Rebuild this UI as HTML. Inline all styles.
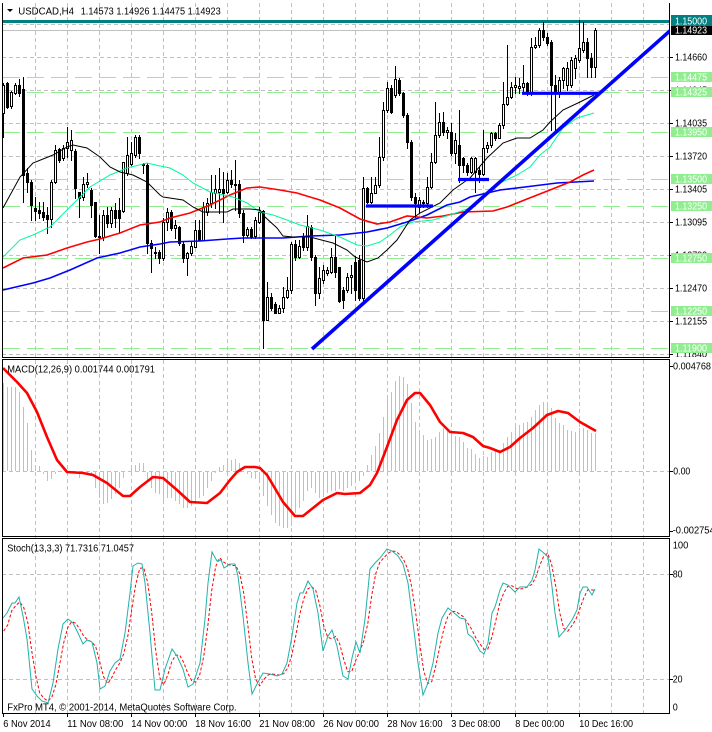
<!DOCTYPE html>
<html><head><meta charset="utf-8">
<style>
html,body{margin:0;padding:0;background:#fff;overflow:hidden;}
svg{display:block;font-family:"Liberation Sans",sans-serif;}
text{font-size:10px;}
</style></head>
<body>
<svg id="s" xmlns="http://www.w3.org/2000/svg" width="712" height="732" viewBox="0 0 712 732">
<defs>
<clipPath id="cm"><rect x="2" y="0" width="667.5" height="357"/></clipPath>
<clipPath id="cml"><rect x="669" y="0" width="43" height="357"/></clipPath>
<clipPath id="cmacd"><rect x="2" y="359" width="667" height="177"/></clipPath>
<clipPath id="cst"><rect x="2" y="538" width="667" height="175"/></clipPath>
</defs>
<rect x="0" y="0" width="712" height="732" fill="#fff"/>
<g id="grid" shape-rendering="crispEdges"></g>
<g id="levels" shape-rendering="crispEdges" clip-path="url(#cm)"></g>
<g id="candles" shape-rendering="crispEdges" clip-path="url(#cm)"></g>
<g id="mas" clip-path="url(#cm)" fill="none"></g>
<g id="objs" clip-path="url(#cm)" fill="none"></g>
<g id="macd" clip-path="url(#cmacd)"></g>
<g id="stoch" clip-path="url(#cst)" fill="none"></g>
<g id="frame" shape-rendering="crispEdges"></g>
<g id="labels"></g>
</svg>
<script>
const NS="http://www.w3.org/2000/svg";
function el(tag,attrs,parent){const e=document.createElementNS(NS,tag);for(const k in attrs)e.setAttribute(k,attrs[k]);(parent||document.getElementById('s')).appendChild(e);return e;}
function txt(x,y,s,len,fill,parent,extra){const a={x:x,y:y,fill:fill||'#000'};if(len){a.textLength=len;a.lengthAdjust='spacingAndGlyphs';}if(extra)for(const k in extra)a[k]=extra[k];const t=el('text',a,parent);t.textContent=s;return t;}
const G=id=>document.getElementById(id);
const gGrid=G('grid'),gLev=G('levels'),gC=G('candles'),gMA=G('mas'),gO=G('objs'),gM=G('macd'),gS=G('stoch'),gF=G('frame'),gL=G('labels');

// vertical grid
for(let k=0;k<20;k++){const x=35.5+32*k;el('line',{x1:x,y1:3,x2:x,y2:713,stroke:'#c0c0c0','stroke-width':1,'stroke-dasharray':'4,3'},gGrid);}
// horizontal grid main
[24,57,90,123,156,189,222,255,288,321,354].forEach(y=>el('line',{x1:2,y1:y+0.5,x2:669,y2:y+0.5,stroke:'#c0c0c0','stroke-width':1,'stroke-dasharray':'4,3'},gGrid));
// MACD zero & stoch levels
[471,574,679].forEach(y=>el('line',{x1:2,y1:y+0.5,x2:669,y2:y+0.5,stroke:'#c0c0c0','stroke-width':1,'stroke-dasharray':'4,3'},gGrid));

// green levels
[77,92,132,179,206,258,311,348].forEach(y=>el('line',{x1:3,y1:y+0.5,x2:669,y2:y+0.5,stroke:'#90ee90','stroke-width':1,'stroke-dasharray':'17,7'},gLev));
// bid line
el('rect',{x:2,y:30,width:667,height:1,fill:'#c0c0c0'},gLev);
// teal 1.15000
el('rect',{x:2,y:20,width:667,height:3,fill:'#008080'},gLev);

// candles [top,bottom,high,low,bull]
const C=[[85,113,83,137,1],[83,107,82,108,0],[92,106,91,108,1],[85,93,83,94,1],[85,93,79,96,0],[89,175,77,202,0],[173,182,168,192,0],[182,205,180,220,0],[208,211,197,220,0],[210,213,202,218,0],
[212,217,202,220,0],[215,219,207,233,0],[182,219,180,227,1],[150,182,145,183,1],[149,160,148,162,0],[148,158,145,160,1],[142,148,127,157,1],[140,150,130,160,1],[151,188,149,198,0],[192,198,192,217,0],
[184,197,177,200,1],[182,184,173,187,1],[190,205,188,217,0],[202,236,202,237,0],[236,237,215,253,0],[215,237,210,240,1],[215,223,207,227,0],[210,223,207,227,1],[210,218,203,227,0],[210,218,198,233,0],
[162,211,162,212,1],[155,173,137,175,1],[153,164,142,165,1],[137,155,135,157,1],[137,153,135,158,0],[164,165,163,173,0],[165,243,163,253,0],[243,248,240,272,0],[252,253,247,258,1],[252,258,250,263,0],
[222,258,218,260,1],[212,222,208,230,1],[212,228,210,230,0],[225,228,220,238,1],[227,243,226,245,0],[244,258,242,262,0],[253,258,252,275,1],[246,253,242,255,1],[230,247,220,247,1],[230,240,220,240,0],
[207,240,202,240,1],[203,212,198,215,1],[192,203,175,207,1],[189,193,175,208,1],[189,192,168,213,1],[189,193,172,222,0],[180,192,173,193,1],[180,184,170,187,0],[184,185,160,210,1],[184,213,180,217,0],
[213,235,210,242,0],[229,235,227,237,1],[229,237,227,238,0],[220,236,217,238,1],[212,222,207,223,1],[211,320,210,348,0],[297,320,282,320,1],[297,308,293,310,0],[304,313,302,313,0],[308,313,305,313,1],
[297,308,287,312,1],[290,297,277,298,1],[244,290,242,293,1],[244,257,240,260,0],[246,257,240,258,1],[236,247,233,250,0],[226,247,215,250,1],[227,257,225,260,0],[257,293,255,305,0],[278,293,267,298,1],
[270,280,265,283,1],[270,273,267,275,1],[257,272,248,273,1],[257,272,235,277,0],[267,301,267,302,0],[290,300,287,308,0],[277,290,273,292,1],[275,277,265,293,1],[262,290,256,300,0],[260,298,255,300,0],
[188,298,177,300,1],[188,202,187,203,0],[193,202,177,203,1],[185,193,177,193,1],[157,185,137,187,1],[110,157,102,160,1],[88,110,82,112,1],[88,112,85,113,0],[79,95,66,97,1],[80,93,78,95,0],
[93,115,92,117,0],[115,142,113,148,0],[142,197,140,200,0],[197,203,193,217,0],[200,207,197,213,1],[202,203,200,207,0],[187,203,177,207,1],[162,187,153,188,1],[135,162,102,163,1],[122,135,113,137,1],
[122,132,112,135,0],[130,132,127,138,1],[132,153,123,155,0],[140,153,133,163,1],[145,165,110,182,0],[158,165,157,172,0],[165,172,163,175,0],[158,172,157,173,1],[158,172,157,192,1],[170,174,167,182,0],
[148,174,130,175,1],[145,148,142,152,1],[133,145,132,147,1],[133,138,132,140,0],[125,138,123,138,1],[104,125,82,128,1],[97,104,45,105,1],[87,97,82,98,1],[85,87,77,93,1],[86,88,78,93,1],
[83,87,65,92,1],[83,93,82,95,0],[47,93,38,95,1],[45,47,37,48,1],[30,45,28,47,1],[30,37,22,40,0],[37,43,33,45,0],[42,85,40,130,0],[85,92,75,132,0],[80,92,77,97,1],
[68,80,67,88,1],[68,85,62,90,1],[60,85,57,87,1],[58,68,55,78,1],[48,60,20,62,1],[42,50,22,52,1],[42,58,38,77,0],[58,67,53,77,0],[30,67,28,77,1]];
C.forEach((c,i)=>{const [t,b,h,l,u]=c;const x=2+4*i;
 el('rect',{x:x+1,y:h,width:1,height:l-h+1,fill:'#000'},gC);
 if(u){el('rect',{x:x+0.5,y:t+0.5,width:2,height:Math.max(b-t,1),fill:'#fff',stroke:'#000','stroke-width':1},gC);}
 else el('rect',{x:x,y:t,width:3,height:Math.max(b-t+1,1),fill:'#000'},gC);
});

function pl(pts,attrs,parent){attrs.points=pts.map(p=>p.join(',')).join(' ');return el('polyline',attrs,parent);}
const BLU=[[3,290],[33,283],[50,278],[70,270],[97,258],[120,253],[140,247],[160,244],[170,242],[200,241],[227,239],[243,238],[283,238],[310,236],[340,235],[367,232],[387,228],[407,222],[427,215],[447,205],[460,202],[470,197],[500,190],[533,186],[557,183],[594,181]];
const RED=[[3,268],[23,258],[47,255],[67,248],[87,242],[100,239],[120,233],[140,225],[160,222],[170,218],[190,213],[210,205],[230,195],[247,188],[260,187],[280,190],[297,193],[310,197],[320,200],[340,208],[360,219],[377,224],[390,222],[407,216],[427,218],[443,216],[463,212],[493,211],[507,207],[527,199],[550,190],[570,182],[583,175],[594,170]];
const GRN=[[3,257],[20,240],[33,235],[50,227],[67,210],[77,200],[90,187],[110,175],[127,168],[147,163],[160,166],[170,168],[183,175],[193,183],[210,192],[233,197],[247,203],[260,212],[273,215],[287,220],[300,225],[320,230],[340,237],[357,245],[367,246],[380,242],[390,235],[400,227],[413,222],[433,220],[450,215],[470,208],[483,195],[500,183],[517,175],[530,167],[540,155],[550,147],[563,128],[577,118],[594,113]];
const BLK=[[3,208],[20,177],[33,163],[53,155],[67,147],[73,145],[87,148],[100,157],[110,167],[120,172],[133,175],[147,182],[160,195],[163,197],[183,200],[193,207],[203,212],[227,212],[233,209],[250,209],[260,210],[265,217],[277,228],[283,236],[293,237],[310,237],[333,243],[347,250],[355,257],[367,262],[378,258],[387,250],[397,240],[410,220],[420,213],[440,203],[453,190],[460,185],[470,178],[487,158],[503,143],[517,138],[530,138],[543,130],[550,122],[563,110],[580,102],[594,95]];
pl(BLU,{stroke:'#0000ff','stroke-width':1.6},gMA);
pl(RED,{stroke:'#ff0000','stroke-width':1.6},gMA);
pl(GRN,{stroke:'#00fa9a','stroke-width':1},gMA);
pl(BLK,{stroke:'#000','stroke-width':1},gMA);

// blue trend objects
el('line',{x1:312,y1:349,x2:672,y2:29,stroke:'#0000ff','stroke-width':3.6},gO);
el('line',{x1:366,y1:206,x2:433,y2:206,stroke:'#0000ff','stroke-width':3.2},gO);
el('line',{x1:458,y1:179.5,x2:489,y2:179.5,stroke:'#0000ff','stroke-width':3.2},gO);
el('line',{x1:522,y1:93.3,x2:600,y2:93.3,stroke:'#0000ff','stroke-width':3.2},gO);

// MACD histogram
const H=[383,387,387,387,392,407,423,450,465,466,473,480,478,473,471,471,472,471,472,477,473,473,474,487,497,503,502,498,493,487,477,471,465,465,463,463,480,487,492,493,503,497,497,500,503,507,507,505,500,497,495,487,480,472,467,465,462,
460,459,463,471,473,477,478,482,495,505,514,522,525,527,527,525,512,507,500,490,487,492,497,492,492,490,490,488,490,487,485,482,480,475,465,455,446,433,417,398,392,381,376,377,384,403,422,430,435,440,439,437,432,428,430,434,436,437,442,448,449,454,458,456,457,
452,450,450,443,437,432,427,425,423,422,417,410,405,402,402,408,418,423,425,430,431,432,428,428,430,433,433];
const gH=el('g',{'shape-rendering':'crispEdges'},gM);
H.forEach((v,i)=>{const x=3+4*i;if(v<471)el('rect',{x:x,y:v,width:1,height:471-v,fill:'#c0c0c0'},gH);else if(v>471)el('rect',{x:x,y:472,width:1,height:v-471,fill:'#c0c0c0'},gH);});
const MR=[[3,368],[17,382],[27,393],[37,412],[47,437],[57,460],[67,472],[83,473],[93,475],[107,483],[123,496],[130,496],[140,487],[153,477],[163,478],[177,490],[190,502],[207,503],[220,493],[230,480],[237,472],[245,467],[255,467],[260,468],[267,475],[273,485],[283,502],[295,516],[303,516],[313,508],[323,500],[337,493],[345,494],[360,493],[370,485],[377,473],[387,447],[397,420],[407,400],[415,393],[420,393],[430,405],[440,422],[450,432],[463,433],[473,437],[483,446],[490,448],[500,452],[510,447],[520,438],[533,428],[547,415],[558,411],[568,413],[580,422],[596,431]];
pl(MR,{stroke:'#ff0000','stroke-width':2.6,fill:'none','stroke-linejoin':'round'},gM);

// Stochastic
const ST=[[3,618],[7,613],[12,603],[15,603],[19,597],[23,616],[27,639],[32,689],[37,696],[42,701],[48,703],[53,683],[58,649],[63,624],[68,619],[73,623],[78,633],[83,644],[87,640],[92,642],[97,663],[100,689],[105,686],[110,671],[115,663],[120,659],[125,633],[130,593],[133,566],[138,563],[142,564],[145,583],[150,633],[155,690],[160,690],[165,669],[172,649],[177,656],[183,669],[188,687],[193,684],[200,663],[205,619],[208,583],[212,552],[217,561],[221,560],[224,568],[230,564],[235,564],[238,576],[243,616],[248,663],[252,694],[257,684],[263,673],[270,674],[277,676],[282,674],[287,663],[292,636],[297,603],[300,593],[303,593],[308,581],[313,589],[318,613],[323,651],[328,636],[332,630],[337,646],[343,676],[348,679],[352,658],[356,642],[360,653],[365,619],[370,569],[375,563],[380,558],[387,549],[392,551],[398,556],[403,564],[408,583],[413,623],[418,663],[423,695],[428,683],[433,663],[438,633],[442,618],[448,608],[453,612],[460,618],[465,619],[468,634],[473,638],[480,651],[484,654],[488,643],[492,613],[495,607],[500,590],[503,583],[508,585],[515,592],[520,587],[527,587],[532,580],[535,570],[539,549],[545,554],[548,557],[552,587],[555,613],[559,637],[565,630],[572,620],[577,610],[580,593],[583,587],[587,587],[592,595],[595,589]];
function interp(x){if(x<=ST[0][0])return ST[0][1];for(let k=1;k<ST.length;k++){if(x<=ST[k][0]){const a=ST[k-1],b=ST[k];return a[1]+(b[1]-a[1])*(x-a[0])/(b[0]-a[0]);}}return ST[ST.length-1][1];}
const tv=[];for(let i=0;i<149;i++)tv.push(interp(3.7+4*i));
const sig=[];for(let i=0;i<149;i++){const a=tv[Math.max(0,i-2)],b=tv[Math.max(0,i-1)],c=tv[i];sig.push([3.7+4*i,((a+b+c)/3).toFixed(1)]);}
sig[0][1]=631;sig[1][1]=625;
pl(sig,{stroke:'#ff0000','stroke-width':1,'stroke-dasharray':'3,2'},gS);
pl(ST,{stroke:'#20b2aa','stroke-width':1},gS);

// frame
const fr=(x,y,w,h)=>el('rect',{x:x,y:y,width:w,height:h,fill:'#000'},gF);
fr(2,3,1,354);fr(669,3,1,354);fr(2,357,668,1);
fr(2,359,668,1);fr(2,359,1,178);fr(669,359,1,178);fr(2,536,668,1);
fr(2,538,668,1);fr(2,538,1,176);fr(669,538,1,176);fr(2,713,668,1);
// right ticks
[57,90,123,156,189,222,255,288,321,354].forEach(y=>fr(669,y,4,1));
[366,471,531,574,679].forEach(y=>fr(669,y,4,1));
// bottom ticks
for(let k=0;k<10;k++)fr(3+64*k,713,1,4);

// header
el('polygon',{points:'7,9 13,9 10,12',fill:'#000'},gL);
txt(18.3,14.3,'USDCAD,H4',55.7,'#000',gL);
txt(80.7,14.3,'1.14573 1.14926 1.14475 1.14923',140,'#000',gL);
txt(7.3,372.5,'MACD(12,26,9) 0.001744 0.001791',147.7,'#000',gL);
txt(7.3,551.7,'Stoch(13,3,3) 71.7316 71.0457',126.7,'#000',gL);
txt(7.3,710.5,'FxPro MT4, \u00a9 2001-2014, MetaQuotes Software Corp.',229.3,'#000',gL);

// main axis labels
const gML=el('g',{'clip-path':'url(#cml)'},gL);
[[24,'1.14975'],[57,'1.14660'],[90,'1.14345'],[123,'1.14035'],[156,'1.13720'],[189,'1.13405'],[222,'1.13095'],[255,'1.12780'],[288,'1.12470'],[321,'1.12155'],[354,'1.11840']].forEach(a=>txt(675,a[0]+3.6,a[1],32,'#000',gML));
[[77,'1.14475'],[92,'1.14325'],[132,'1.13950'],[179,'1.13500'],[206,'1.13250'],[258,'1.12750'],[311,'1.12250'],[348,'1.11900']].forEach(a=>{el('rect',{x:671,y:a[0]-5,width:41,height:10,fill:'#90ee90'},gML);txt(675,a[0]+3.7,a[1],32,'#fff',gML);});
el('rect',{x:671,y:15,width:41,height:11,fill:'#008080'},gML);txt(675,24.3,'1.15000',32,'#fff',gML);
el('rect',{x:671,y:26,width:41,height:9,fill:'#000'},gML);txt(675,33.6,'1.14923',32,'#fff',gML);

// MACD labels
txt(673,369.6,'0.004768',38,'#000',gL);
txt(673.3,474.4,'0.00',17,'#000',gL);
txt(672.7,533.5,'-0.002754',42,'#000',gL);
// Stoch labels
txt(672.7,548.5,'100',15.6,'#000',gL);
txt(672.7,577.5,'80',9.8,'#000',gL);
txt(672.7,682.5,'20',9.8,'#000',gL);
txt(672.7,710.7,'0',5,'#000',gL);

// x labels
[['6 Nov 2014',47.3],['11 Nov 08:00',56],['14 Nov 00:00',56],['18 Nov 16:00',55.7],['21 Nov 08:00',55.7],['26 Nov 00:00',55.7],['28 Nov 16:00',55.3],['3 Dec 08:00',49],['8 Dec 00:00',49],['10 Dec 16:00',53.7]].forEach((a,k)=>txt(3.3+64*k,727,a[0],a[1],'#000',gL));
</script>
</body></html>
